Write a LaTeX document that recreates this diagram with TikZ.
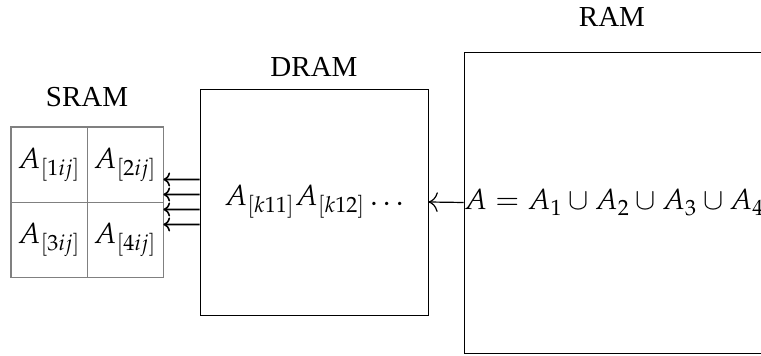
\documentclass[tikz,border=0pt]{standalone}
\usepackage{mathpazo}
\usepackage[no-math]{fontspec}
\setmainfont{Liberation Serif}
\usetikzlibrary{positioning,calc,arrows.meta}
\tikzset{
  bunka/.style={draw=gray,minimum width=38pt,minimum height=37.5pt,inner sep=0pt},
  pamet/.style={draw,thin,inner sep=0pt},
  popis/.style={inner sep=1pt},
  sip/.style={<-,thick},
  sipR/.style={{To[scale=1.6]}-,semithick},
}

\begin{document}
\begin{tikzpicture}[x=0.5pt,y=-0.5pt,font=\fontsize{14.5}{17.5}\selectfont]
  \useasboundingbox (0,0) rectangle (761,356);
  \begin{scope}
  \clip (0,0) rectangle (761,356);
  % SRAM
  \node[bunka] (s1) at (49,164.5) {$A_{[1ij]}$};
  \node[bunka] (s2) at (125,164.5) {$A_{[2ij]}$};
  \node[bunka] (s3) at (49,239.5) {$A_{[3ij]}$};
  \node[bunka] (s4) at (125,239.5) {$A_{[4ij]}$};
  \draw[gray,semithick] (s1.north west) rectangle (s4.south east);
  \coordinate (sram) at ($(s1.north west)!0.5!(s4.south east)$);
  \node[popis] (lsram) at (87,97) {SRAM};
  % DRAM
  \node[pamet,minimum width=114pt,minimum height=113pt] (dram) at (314,202)
    {$A_{[k11]}A_{[k12]}\dots$};
  \node[popis] (ldram) at (314,67) {DRAM};
  % RAM
  \node[pamet,minimum width=200pt,minimum height=150.5pt] (ram) at (664,202.5) {};
  \node[inner sep=0pt,anchor=west] (ramtxt) at (ram.west) {$A=A_1\cup A_2\cup A_3\cup A_4$};
  \node[popis] (lram) at (612,17) {RAM};
  % prenosy
  \foreach \dy in {-22.5,-7.5,7.5,22.5}
    \draw[sip] ($(s2.east |- sram)+(0,\dy)$) -- ($(dram.west)+(0,\dy)$);
  \draw[sipR] (dram.east) -- (ram.west);
  \end{scope}
\end{tikzpicture}
\end{document}
